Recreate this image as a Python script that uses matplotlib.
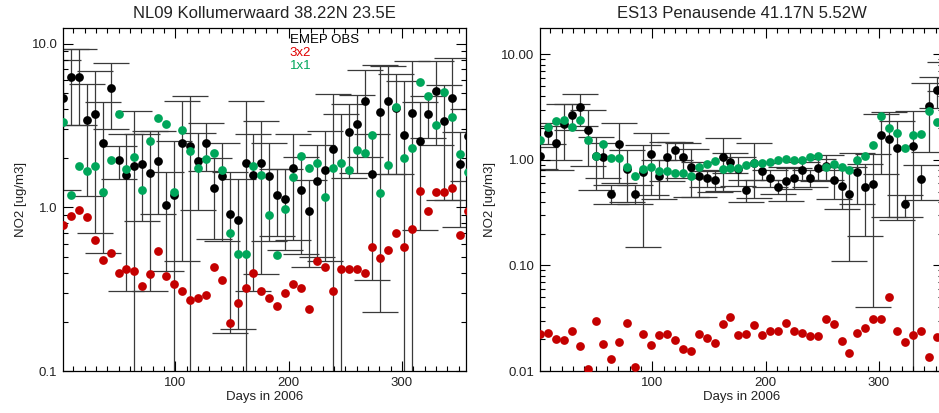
# Weekly NO2 at two EMEP stations: observations (with spread) vs two model resolutions.

import matplotlib
matplotlib.use("Agg")
import matplotlib.pyplot as plt
from matplotlib.ticker import FixedLocator, FixedFormatter, MultipleLocator, LogLocator, NullFormatter

plt.rcParams["font.family"] = ["Liberation Sans", "DejaVu Sans"]

days = [1, 8, 15, 22, 29, 36, 43, 50, 57, 64, 71, 78, 85, 92, 99, 106, 113,
        120, 127, 134, 141, 148, 155, 162, 169, 176, 183, 190, 197, 204, 211,
        218, 225, 232, 239, 246, 253, 260, 267, 274, 281, 288, 295, 302, 309,
        316, 323, 330, 337, 344, 351, 358]

# NL09 Kollumerwaard
nl_obs = [4.64, 6.24, 6.24, 3.42, 3.75, 2.48, 5.35, 1.94, 1.57, 1.79,
          1.83, 1.62, 1.92, 1.03, 1.19, 2.48, 2.38, 1.92, 2.46, 1.32,
          1.55, 0.91, 0.84, 1.88, 1.57, 1.88,
          1.55, 1.19, 1.13, 1.73, 1.28, 0.95, 1.46, 1.70, 2.27, 0.05,
          2.90, 3.24, 4.47, 1.59, 3.83, 4.49, 4.05, 2.79, 3.77, 2.56,
          3.74, 5.13, 3.37, 4.64, 1.83, 2.73]
nl_sd = [3.36, 3.06, 3.06, 2.24, 3.05, 1.95, 2.33, 0.44, 1.26, 2.11,
         1.00, 1.31, 1.01, 0.62, 1.35, 2.01, 2.39, 0.95, 0.80, 0.68,
         0.93, 0.74, 0.66, 2.61, 1.26, 1.49,
         0.93, 0.52, 0.58, 1.10, 0.76, 0.52, 0.96, 1.23, 2.64, 3.70,
         1.38, 1.62, 2.45, 1.23, 3.60, 2.88, 2.46, 3.17, 4.10, 1.83,
         1.08, 2.73, 2.26, 3.53, 1.07, 1.27]
nl_3x2 = [0.78, 0.89, 0.97, 0.88, 0.63, 0.48, 0.53, 0.40, 0.42, 0.41,
          0.33, 0.39, 0.54, 0.38, 0.34, 0.31, 0.27, 0.28, 0.29, 0.43,
          0.36, 0.196, 0.26, 0.32, 0.40, 0.31,
          0.28, 0.25, 0.30, 0.34, 0.32, 0.24, 0.47, 0.43, 0.31, 0.42,
          0.42, 0.42, 0.40, 0.57, 0.49, 0.55, 0.70, 0.57, 0.74, 1.26,
          0.95, 1.24, 1.24, 1.32, 0.68, 0.95]
nl_1x1 = [3.34, 1.19, 1.79, 1.66, 1.79, 1.24, 1.94, 3.75, 1.71, 2.04,
          1.28, 2.54, 3.50, 3.23, 1.25, 2.99, 2.22, 1.74, 1.99, 2.16,
          1.70, 0.70, 0.52, 0.52, 1.79, 1.57,
          0.90, 0.51, 0.98, 1.53, 2.06, 1.74, 1.87, 1.16, 1.73, 1.88,
          1.69, 2.24, 2.15, 2.79, 1.23, 1.81, 4.13, 2.01, 2.31, 5.82,
          4.80, 3.19, 5.05, 3.58, 2.11, 1.65]

# ES13 Penausende
es_obs = [1.08, 1.82, 1.46, 2.20, 2.67, 3.16, 1.93, 1.08, 1.06, 0.48,
          1.42, 0.82, 0.48, 0.77, 1.13, 0.71, 1.06, 1.24, 1.06, 0.86,
          0.70, 0.67, 0.65, 1.06, 0.96, 0.82,
          0.52, 0.94, 0.79, 0.68, 0.56, 0.63, 0.68, 0.80, 0.68, 0.83,
          0.88, 0.64, 0.57, 0.48, 0.77, 0.55, 0.59, 1.73, 1.58, 1.31,
          0.38, 1.37, 0.66, 3.28, 4.58, 6.5]
es_sd = [0.26, 0.40, 0.65, 1.2, 0.73, 1.04, 1.05, 0.56, 0.39, 0.10,
         0.81, 0.42, 0.10, 0.62, 0.66, 0.28, 0.43, 0.25, 0.38, 0.41,
         0.25, 0.12, 0.15, 0.55, 0.20, 0.25,
         0.12, 0.50, 0.14, 0.12, 0.08, 0.22, 0.15, 0.15, 0.12, 0.20,
         0.24, 0.21, 0.23, 0.37, 0.39, 0.36, 0.55, 1.0, 1.29, 1.04,
         0.09, 1.55, 0.24, 2.1, 1.5, 2.0]
es_3x2 = [0.0226, 0.0231, 0.0203, 0.0198, 0.0238, 0.0173, 0.0105, 0.0298, 0.0182, 0.0129,
          0.0188, 0.0286, 0.0109, 0.0226, 0.0178, 0.0221, 0.0226, 0.0198, 0.0163, 0.0154,
          0.0226, 0.0207, 0.0184, 0.0277, 0.0326, 0.0218,
          0.0226, 0.0272, 0.0218, 0.0238, 0.0238, 0.0286, 0.0239, 0.0231, 0.0213, 0.0214,
          0.0310, 0.0281, 0.0191, 0.0149, 0.0231, 0.0256, 0.0310, 0.0310, 0.0504, 0.0238,
          0.0188, 0.0218, 0.0238, 0.0136, 0.0210, 0.0215]
es_1x1 = [1.55, 2.07, 2.35, 2.40, 2.04, 2.40, 1.55, 1.08, 1.42, 1.04,
          1.04, 0.85, 0.70, 0.82, 0.85, 0.78, 0.79, 0.76, 0.76, 0.71,
          0.85, 0.91, 0.98, 0.82, 0.83, 0.83,
          0.90, 0.94, 0.93, 0.95, 1.00, 1.02, 1.00, 1.00, 1.06, 1.09,
          0.85, 0.91, 0.86, 0.80, 1.00, 1.09, 1.39, 2.62, 2.03, 1.82,
          1.31, 1.73, 1.75, 2.88, 2.31, 3.3]

OBS_C = "black"
RED_C = "#c40000"
GRN_C = "#00a65a"
TXT_C = "#222222"
MS = 6.3


def station_panel(ax, title, obs, sd, m3x2, m1x1, ylim, yticks, ylabels):
    """ Draw one station: obs with +-sd bars, and both model runs. """
    lower = [min(s, o - 1e-5) for o, s in zip(obs, sd)]
    ax.errorbar(days, obs, yerr=[lower, sd], fmt="none", ecolor="#3a3a3a",
                elinewidth=0.9, capsize=13, capthick=0.9, zorder=1)
    ax.plot(days, obs, "o", color=OBS_C, ms=MS, mec="none", zorder=2)
    ax.plot(days, m3x2, "o", color=RED_C, ms=MS, mec="none", zorder=3)
    ax.plot(days, m1x1, "o", color=GRN_C, ms=MS, mec="none", zorder=4)

    ax.set_yscale("log")
    ax.set_xlim(1, 356.5)
    ax.set_ylim(*ylim)
    ax.yaxis.set_major_locator(FixedLocator(yticks))
    ax.yaxis.set_major_formatter(FixedFormatter(ylabels))
    ax.yaxis.set_minor_locator(LogLocator(base=10, subs=range(2, 10)))
    ax.yaxis.set_minor_formatter(NullFormatter())
    ax.xaxis.set_major_locator(FixedLocator([100, 200, 300]))
    ax.xaxis.set_minor_locator(MultipleLocator(10))

    ax.tick_params(which="both", direction="in", top=True, right=True,
                   colors="black", labelcolor=TXT_C, labelsize=9.5, width=0.8)
    ax.tick_params(which="major", length=7, pad=4)
    ax.tick_params(which="minor", length=3.5)
    for s in ax.spines.values():
        s.set_linewidth(0.9)

    ax.set_title(title, fontsize=12, color=TXT_C, pad=7)
    ax.set_xlabel("Days in 2006", fontsize=9.5, color=TXT_C, labelpad=2)
    ax.set_ylabel("NO2 [ug/m3]", fontsize=9.5, color=TXT_C)


fig = plt.figure(figsize=(9.39, 4.13), dpi=100)
ax1 = fig.add_axes([63 / 939, 42 / 413, 403 / 939, 343 / 413])
ax2 = fig.add_axes([540 / 939, 42 / 413, 403 / 939, 343 / 413])

station_panel(ax1, "NL09 Kollumerwaard 38.22N 23.5E", nl_obs, nl_sd, nl_3x2, nl_1x1,
              (0.1, 12.5), [0.1, 1.0, 10.0], ["0.1", "1.0", "10.0"])
station_panel(ax2, "ES13 Penausende 41.17N 5.52W", es_obs, es_sd, es_3x2, es_1x1,
              (0.01, 17.8), [0.01, 0.1, 1.0, 10.0], ["0.01", "0.10", "1.00", "10.00"])

ax1.yaxis.set_label_coords(-0.09, 0.5)
ax2.yaxis.set_label_coords(-0.11, 0.5)

# legend as coloured text, top of left panel
ax1.text(0.563, 0.966, "EMEP OBS", color="black", fontsize=9.5, transform=ax1.transAxes, va="center")
ax1.text(0.563, 0.928, "3x2", color="#e00000", fontsize=9.5, transform=ax1.transAxes, va="center")
ax1.text(0.563, 0.890, "1x1", color=GRN_C, fontsize=9.5, transform=ax1.transAxes, va="center")

fig.savefig("out.png", dpi=100)
plt.close(fig)
